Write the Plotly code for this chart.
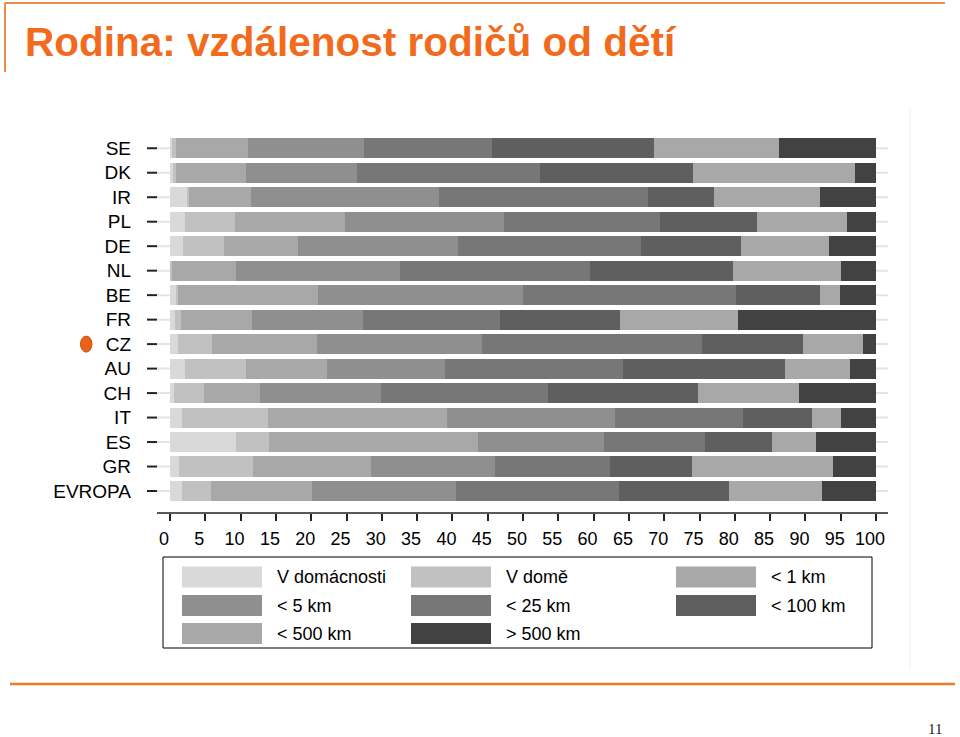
import plotly.graph_objects as go

# countries (top to bottom) and distance categories
countries = ["SE", "DK", "IR", "PL", "DE", "NL", "BE", "FR", "CZ", "AU", "CH", "IT", "ES", "GR", "EVROPA"]
categories = ["V domácnosti", "V domě", "< 1 km", "< 5 km", "< 25 km", "< 100 km", "< 500 km", "> 500 km"]

# shares in percent, one list per category, in country order
v_domacnosti = [0.3, 0.45, 2.5, 2.1, 1.8, 0.0, 0.9, 0.7, 1.1, 2.1, 0.55, 1.75, 9.35, 1.25, 1.65]
v_dome = [0.55, 0.4, 0.15, 7.1, 5.85, 0.3, 0.3, 0.85, 4.8, 8.7, 4.3, 12.15, 4.65, 10.5, 4.1]
km_1 = [10.2, 9.85, 8.85, 15.6, 10.5, 9.05, 19.7, 10.05, 14.9, 11.5, 7.95, 25.3, 29.6, 16.65, 14.35]
km_5 = [16.4, 15.8, 26.6, 22.5, 22.7, 23.25, 29.1, 15.7, 23.4, 16.65, 17.1, 23.8, 17.9, 17.6, 20.4]
km_25 = [18.1, 25.9, 29.6, 22.1, 25.9, 26.9, 30.2, 19.4, 31.1, 25.15, 23.7, 18.2, 14.3, 16.3, 23.05]
km_100 = [23.0, 21.7, 9.4, 13.7, 14.1, 20.2, 11.8, 17.0, 14.3, 23.0, 21.2, 9.7, 9.5, 11.7, 15.65]
km_500 = [17.7, 22.9, 14.9, 12.8, 12.5, 15.4, 2.9, 16.8, 8.5, 9.2, 14.25, 4.2, 6.2, 19.9, 13.1]
km_over = [13.75, 3.0, 8.0, 4.1, 6.65, 4.9, 5.1, 19.5, 1.9, 3.7, 10.95, 4.9, 8.5, 6.1, 7.7]

x_ticks = list(range(0, 101, 5))
highlight = "CZ"

series = [v_domacnosti, v_dome, km_1, km_5, km_25, km_100, km_500, km_over]
colors = ["#d9d9d9", "#c1c1c1", "#a8a8a8", "#8f8f8f", "#777777", "#5f5f5f", "#a8a8a8", "#424242"]
orange = "#f26b1d"

# plot area in page pixels
L, R, T, B = 170, 876, 136, 513
W, H = 960, 737


def px(x):
    return (x - L) / (R - L)


def py(y):
    return (B - y) / (B - T)


fig = go.Figure()
for name, vals, col in zip(categories, series, colors):
    fig.add_trace(go.Bar(y=countries, x=vals, name=name, orientation="h",
                         marker=dict(color=col, line=dict(width=0)),
                         showlegend=False))

shapes = []
# light row guide lines and dark ticks on the left
for c in countries:
    shapes.append(dict(type="line", xref="paper", yref="y", x0=px(157), x1=px(888), y0=c, y1=c,
                       line=dict(color="#e4e4e4", width=2), layer="below"))
    shapes.append(dict(type="line", xref="paper", yref="y", x0=px(147), x1=px(157), y0=c, y1=c,
                       line=dict(color="#222222", width=2)))
# x axis line
shapes.append(dict(type="line", xref="paper", yref="paper", x0=px(157), x1=px(888), y0=0, y1=0,
                   line=dict(color="#222222", width=1.5)))
# faint slide frame line on the right
shapes.append(dict(type="line", xref="paper", yref="paper", x0=px(910), x1=px(910), y0=py(108), y1=py(670),
                   line=dict(color="#f0f0f0", width=1)))
# orange slide decoration
shapes.append(dict(type="line", xref="paper", yref="paper", x0=px(5), x1=px(945), y0=py(3), y1=py(3),
                   line=dict(color="#f08a4a", width=2)))
shapes.append(dict(type="line", xref="paper", yref="paper", x0=px(5), x1=px(5), y0=py(3), y1=py(72),
                   line=dict(color="#f08a4a", width=2)))
shapes.append(dict(type="line", xref="paper", yref="paper", x0=px(10), x1=px(955), y0=py(684), y1=py(684),
                   line=dict(color="#f07a2a", width=2.5)))
# marker for the highlighted country
hy = T + (countries.index(highlight) + 0.5) * (B - T) / (len(countries) + 0.398)
shapes.append(dict(type="circle", xref="paper", yref="paper", x0=px(80.5), x1=px(92),
                   y0=py(hy - 8), y1=py(hy + 8),
                   fillcolor="#e8621a", line=dict(color="#c4520f", width=1)))

annotations = []
# legend box
shapes.append(dict(type="rect", xref="paper", yref="paper", x0=px(163), x1=px(872), y0=py(557), y1=py(648),
                   line=dict(color="#000000", width=1), fillcolor="rgba(0,0,0,0)"))
col_x = [182, 411, 676]
row_y = [577, 605.5, 633.5]
for i, (name, col) in enumerate(zip(categories, colors)):
    cx = col_x[i % 3]
    cy = row_y[i // 3]
    shapes.append(dict(type="rect", xref="paper", yref="paper", x0=px(cx), x1=px(cx + 80),
                       y0=py(cy - 10.5), y1=py(cy + 10.5), fillcolor=col, line=dict(width=0)))
    annotations.append(dict(xref="paper", yref="paper", x=px(cx + 93), y=py(cy), text=name,
                            showarrow=False, xanchor="left", yanchor="middle",
                            font=dict(size=18, color="#000000")))

# page number
annotations.append(dict(xref="paper", yref="paper", x=px(935), y=py(729), text="11", showarrow=False,
                        xanchor="center", yanchor="middle",
                        font=dict(family="Liberation Serif, Times New Roman, serif", size=15, color="#222222")))

fig.update_layout(
    width=W, height=H,
    margin=dict(l=L, r=W - R, t=T, b=H - B, pad=0),
    paper_bgcolor="white", plot_bgcolor="white",
    barmode="stack", bargap=0.18,
    font=dict(family="Liberation Sans, Arial, sans-serif", color="#000000"),
    title=dict(text="<b>Rodina: vzdálenost rodičů od dětí</b>", x=25 / W, xanchor="left",
               y=1 - 42 / H, yanchor="middle",
               font=dict(size=40.5, color=orange, family="Liberation Sans, Arial, sans-serif")),
    shapes=shapes, annotations=annotations,
)
fig.update_xaxes(range=[0, 100], tickvals=x_ticks, ticks="outside", ticklen=7, tickwidth=1.5,
                 tickcolor="#222222", showline=False, showgrid=False, zeroline=False,
                 tickfont=dict(size=18), ticklabelshift=-6, ticklabelstandoff=2, fixedrange=True)
fig.update_yaxes(categoryorder="array", categoryarray=countries,
                 range=[len(countries) - 0.5 + 0.398, -0.5], showgrid=False, zeroline=False,
                 showline=False, ticks="", tickfont=dict(size=19), ticklabelstandoff=38, fixedrange=True)

# drop the default page margin so the figure fills the window from its top-left corner
fig.write_html("out.html", config={"displayModeBar": False},
               post_script="document.body.style.margin='0';")
